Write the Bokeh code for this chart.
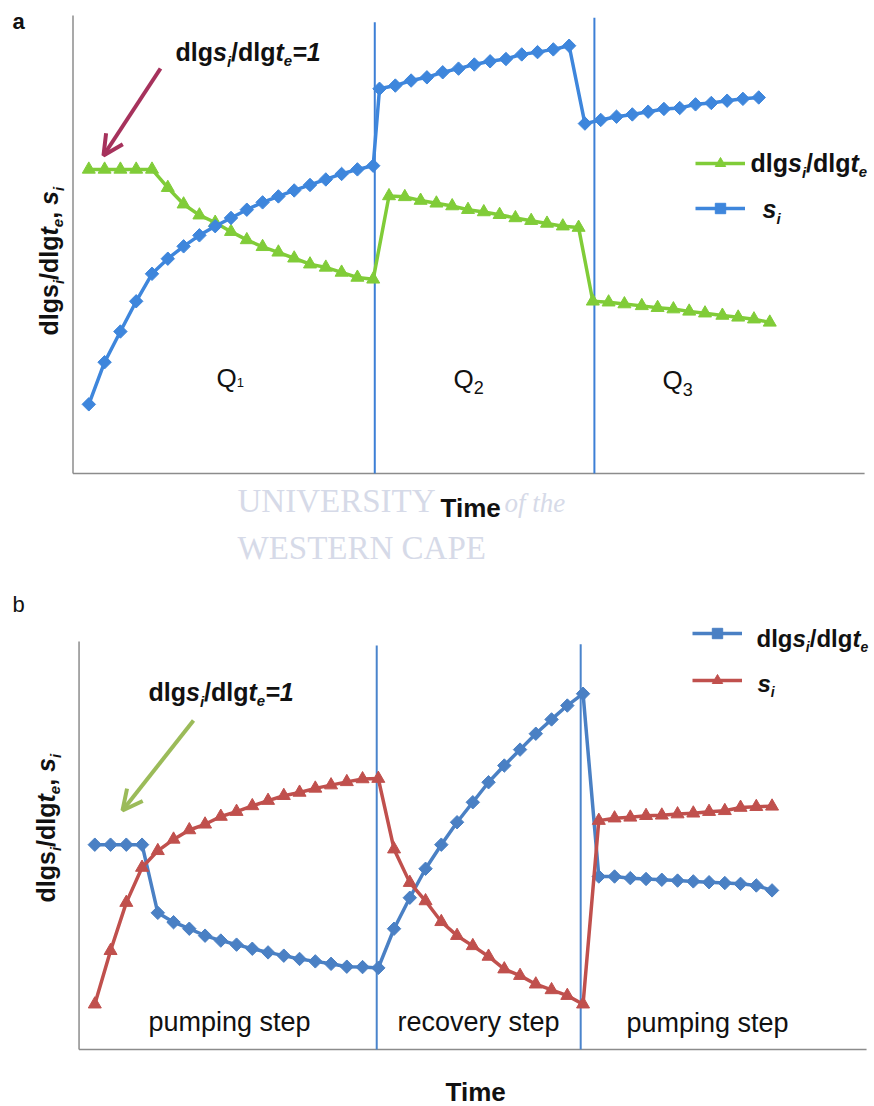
import math
from bokeh.plotting import figure
from bokeh.models import Label, Arrow, OpenHead, Legend, LegendItem, Range1d
from bokeh.layouts import column
from bokeh.embed import file_html
from bokeh.resources import INLINE

FONT = "Liberation Sans"
SERIF = "Liberation Serif"
INK = "#111111"

# ---------------- panel a: three pumping rates ----------------
a_s_time = [1, 2, 3, 4, 5, 6, 7, 8, 9, 10, 11, 12, 13, 14, 15, 16, 17, 18, 19,
            19.4, 20.4, 21.4, 22.4, 23.4, 24.4, 25.4, 26.4, 27.4, 28.4, 29.4, 30.4, 31.4,
            32.4, 33.4, 34.4, 35.4, 36.4, 37.4, 38.4, 39.4, 40.4, 41.4, 42.4, 43.4]
a_s = [15.1, 24.3, 31.0, 37.6, 43.6, 46.9, 49.6, 52.0, 54.0, 55.8, 57.6, 59.2, 60.5,
       61.8, 63.0, 64.2, 65.4, 66.4, 67.2,
       84.0, 84.7, 85.8, 86.5, 87.6, 88.4, 89.3, 90.0, 90.5, 91.5, 92.0, 92.6, 93.4,
       76.4, 77.2, 77.9, 78.4, 79.0, 79.6, 79.8, 80.6, 80.9, 81.4, 81.8, 82.1]
a_deriv_time = [1, 2, 3, 4, 5, 6, 7, 8, 9, 10, 11, 12, 13, 14, 15, 16, 17, 18, 19,
                20, 21, 22, 23, 24, 25, 26, 27, 28, 29, 30, 31, 32,
                32.9, 33.9, 34.9, 36.0, 37.0, 38.0, 39.0, 40.0, 41.1, 42.1, 43.1, 44.1]
a_deriv = [66.4, 66.4, 66.4, 66.4, 66.4, 62.4, 58.8, 56.4, 54.8, 52.8, 51.0, 49.5, 48.3,
           47.0, 45.7, 45.0, 43.9, 42.8, 42.4,
           60.6, 60.4, 59.6, 59.0, 58.4, 57.6, 57.1, 56.5, 55.8, 55.2, 54.6, 54.0, 53.7,
           37.6, 37.4, 37.0, 36.6, 36.2, 35.9, 35.4, 35.0, 34.5, 34.1, 33.7, 33.0]
a_switch_time = [19.1, 33.0]
a_switch_top = [98.5, 99.5]
a_time_end = 50.1
a_rate_labels = ["1", "2", "3"]

# ---------------- panel b: pumping / recovery / pumping ----------------
b_time = list(range(1, 45))
b_deriv = [50.2, 50.2, 50.2, 50.2, 33.5, 31.2, 29.6, 27.9, 26.7, 25.7, 24.7, 23.8, 23.0,
           22.2, 21.6, 21.0, 20.3, 20.2, 20.0,
           29.6, 37.2, 44.3, 50.2, 55.7, 60.6, 65.5, 69.6, 73.5, 77.4, 80.9, 84.3, 87.2,
           42.4, 42.4, 42.0, 41.8, 41.6, 41.4, 41.2, 41.0, 40.8, 40.6, 40.2, 39.0]
b_s = [11.1, 24.2, 36.0, 44.6, 48.7, 51.5, 53.8, 55.2, 57.1, 58.3, 59.7, 61.0, 62.2,
       63.0, 64.0, 64.8, 65.6, 66.3, 66.4,
       49.1, 40.9, 36.4, 31.3, 27.9, 25.4, 22.8, 19.7, 18.1, 16.0, 14.6, 13.2, 11.1,
       56.1, 56.7, 56.9, 57.3, 57.4, 57.7, 57.9, 58.3, 58.5, 59.3, 59.5, 59.6]
b_switch_time = [18.9, 31.85]
b_switch_top = [99.0, 99.3]
b_time_end = 50.0
b_step_labels = ["pumping step", "recovery step", "pumping step"]

# Advance widths (1/1000 em) of the sans face, used to chain styled runs of text
W_REG = {' ': 278, ',': 278, '/': 278, '=': 584, '1': 556, '2': 556, '3': 556, 'Q': 778,
         'T': 611, 'a': 556, 'b': 556, 'c': 500, 'd': 556, 'e': 556, 'g': 556, 'i': 222,
         'l': 222, 'm': 833, 'n': 556, 'o': 556, 'p': 556, 'r': 333, 's': 500, 't': 278,
         'u': 556, 'v': 500, 'y': 500}
W_BOLD = {' ': 278, ',': 278, '/': 278, '=': 584, '1': 556, 'T': 611, 'a': 556, 'b': 611,
          'd': 611, 'e': 556, 'g': 611, 'i': 278, 'l': 278, 'm': 889, 's': 556, 't': 333}

# labels land about this fraction of their size below the requested baseline
BASELINE_FIX = 0.29

DIAMOND = 9.5     # side of the 45-degree square marker
TRIANGLE = 13


class Canvas:
    """Page-pixel <-> data mapping for a figure whose plot area fills its canvas.

    The canvas is w x h and starts at page row `top`; (ox, oy) is the page pixel
    of the data origin and kx / ky are pixels per data unit."""

    def __init__(self, w, h, top, ox, oy, kx, ky):
        self.w, self.h, self.top = w, h, top
        self.ox, self.oy, self.kx, self.ky = ox, oy, kx, ky
        self.xr = (-ox / kx, (w - ox) / kx)
        self.yr = ((oy - top - h) / ky, (oy - top) / ky)

    def dx(self, cx):
        return (cx - self.ox) / self.kx

    def dy(self, cy):
        return (self.oy - cy) / self.ky

    def legend_floor(self, page_y):
        """distance of a page row above the canvas bottom"""
        return self.top + self.h - page_y


def make_figure(cv):
    p = figure(width=cv.w, height=cv.h, output_backend="svg", toolbar_location=None,
               x_range=Range1d(*cv.xr), y_range=Range1d(*cv.yr),
               x_axis_type=None, y_axis_type=None,
               min_border=0)
    p.outline_line_color = None
    p.grid.visible = False
    p.background_fill_color = "white"
    p.border_fill_color = "white"
    return p


def draw_axes(p, x_end, y_top):
    # plain axis lines without ticks, as in a spreadsheet chart
    p.segment(x0=[0, 0], y0=[0, 0], x1=[0, x_end], y1=[y_top, 0],
              line_color="#8C8C8C", line_width=1.5)


def style_of(bold, italic):
    if bold and italic:
        return "bold italic"
    if bold:
        return "bold"
    if italic:
        return "italic"
    return "normal"


def label(p, cv, cx, cy, text, size, bold=False, italic=False, color=INK, font=FONT,
          angle=0.0):
    if angle:
        cx -= BASELINE_FIX * size
    else:
        cy -= BASELINE_FIX * size
    p.add_layout(Label(x=cv.dx(cx), y=cv.dy(cy), text=text, text_font=font,
                       text_font_size=f"{size}px", text_font_style=style_of(bold, italic),
                       text_color=color, text_baseline="alphabetic", text_align="left",
                       angle=angle))


def rich(p, cv, cx, cy, runs, vertical=False, color=INK):
    """runs: (text, size, bold, italic, baseline shift downwards in px)"""
    pos = 0.0
    for text, size, bold, italic, shift in runs:
        if vertical:
            label(p, cv, cx + shift, cy - pos, text, size, bold, italic, color,
                  angle=math.pi / 2)
        else:
            label(p, cv, cx + pos, cy + shift, text, size, bold, italic, color)
        table = W_BOLD if bold else W_REG
        pos += sum(table[c] for c in text) * size / 1000.0


def deriv_runs(size, tail=True):
    sub = round(size * 0.6)
    runs = [("dlg", size, True, False, 0), ("s", size, True, True, 0),
            ("i", sub, True, True, 6), ("/dlg", size, True, False, 0),
            ("t", size, True, True, 0), ("e", sub, True, True, 6)]
    if tail:
        runs.append(("=1", size, True, True, 0))
    return runs


def ylabel_runs(size):
    sub = round(size * 0.6)
    return [("dlgs", size, True, False, 0), ("i", sub, True, True, 6),
            ("/dlg", size, True, False, 0), ("t", size, True, True, 0),
            ("e", sub, True, True, 6), (", ", size, True, False, 0),
            ("s", size, True, True, 0), ("i", sub, True, True, 6)]


def si_runs(size):
    return [("s", size, True, True, 0), ("i", round(size * 0.6), True, True, 6)]


def legend(p, items, x, y_bottom, spacing):
    p.add_layout(Legend(items=items, location=(x, y_bottom), orientation="vertical",
                        glyph_width=50, glyph_height=26, label_height=26, label_width=1,
                        spacing=spacing, padding=0, margin=0, label_standoff=0,
                        border_line_color=None, background_fill_alpha=0,
                        label_text_font_size="1px"))


# ======================= panel a =======================
ca = Canvas(874, 575, 0, 72.5, 473, 15.8, 4.58)
pa = make_figure(ca)

A_BLUE = "#3E86DC"
A_GREEN = "#80CC38"
A_STEP = "#3C7FD6"

# watermark of the source repository
WM = "#D6DAE8"
label(pa, ca, 237, 510, "UNIVERSITY", 33, color=WM, font=SERIF)
label(pa, ca, 504, 510, "of the", 27, italic=True, color=WM, font=SERIF)
label(pa, ca, 237, 557, "WESTERN CAPE", 33, color=WM, font=SERIF)

draw_axes(pa, a_time_end, 100)
pa.segment(x0=a_switch_time, y0=[0, 0], x1=a_switch_time, y1=a_switch_top,
           line_color=A_STEP, line_width=2)

la_g = pa.line(a_deriv_time, a_deriv, line_color=A_GREEN, line_width=3.5)
sa_g = pa.scatter(a_deriv_time, a_deriv, marker="triangle", size=TRIANGLE,
                  fill_color=A_GREEN, line_color=A_GREEN)
la_b = pa.line(a_s_time, a_s, line_color=A_BLUE, line_width=3.5)
sa_b = pa.scatter(a_s_time, a_s, marker="square", angle=math.pi / 4, size=DIAMOND,
                  fill_color=A_BLUE, line_color=A_BLUE)

legend(pa, [LegendItem(label=" ", renderers=[la_g, sa_g]),
            LegendItem(label=" ", renderers=[la_b, sa_b])], 695, ca.legend_floor(221), 19)
rich(pa, ca, 750, 170, deriv_runs(25, tail=False))
rich(pa, ca, 762, 216, si_runs(25))

label(pa, ca, 12, 27, "a", 22, bold=True)
rich(pa, ca, 175, 59, deriv_runs(25))
pa.add_layout(Arrow(x_start=ca.dx(160), y_start=ca.dy(68), x_end=ca.dx(103), y_end=ca.dy(155),
                    line_color="#A6325C", line_width=4,
                    end=OpenHead(size=20, line_color="#A6325C", line_width=4)))
rich(pa, ca, 56, 335, ylabel_runs(25), vertical=True)
label(pa, ca, 440, 515, "Time", 26, bold=True)

for (qx, qy, sub_size, sub_drop), num in zip([(216, 385, 13, 1), (453, 386, 18, 6),
                                              (662, 387, 18, 7)], a_rate_labels):
    rich(pa, ca, qx, qy, [("Q", 26, False, False, 0), (num, sub_size, False, False, sub_drop)])

# ======================= panel b =======================
cb = Canvas(874, 531, 575, 78.55, 1049, 15.75, 4.08)
pb = make_figure(cb)

B_BLUE = "#4A80C4"
B_RED = "#C0504D"
B_STEP = "#4A84CC"

draw_axes(pb, b_time_end, 100)
pb.segment(x0=b_switch_time, y0=[0, 0], x1=b_switch_time, y1=b_switch_top,
           line_color=B_STEP, line_width=2)
lb_b = pb.line(b_time, b_deriv, line_color=B_BLUE, line_width=3.5)
sb_b = pb.scatter(b_time, b_deriv, marker="square", angle=math.pi / 4, size=DIAMOND,
                  fill_color=B_BLUE, line_color=B_BLUE)
lb_r = pb.line(b_time, b_s, line_color=B_RED, line_width=3.5)
sb_r = pb.scatter(b_time, b_s, marker="triangle", size=TRIANGLE,
                  fill_color=B_RED, line_color=B_RED)

legend(pb, [LegendItem(label=" ", renderers=[lb_b, sb_b]),
            LegendItem(label=" ", renderers=[lb_r, sb_r])], 692, cb.legend_floor(693), 21)
rich(pb, cb, 756, 645, deriv_runs(24, tail=False))
rich(pb, cb, 757, 690, si_runs(24))

label(pb, cb, 12, 610, "b", 22)
rich(pb, cb, 148, 699, deriv_runs(25))
pb.add_layout(Arrow(x_start=cb.dx(193), y_start=cb.dy(720), x_end=cb.dx(122), y_end=cb.dy(810),
                    line_color="#9BBB59", line_width=4,
                    end=OpenHead(size=20, line_color="#9BBB59", line_width=4)))
rich(pb, cb, 53, 902, ylabel_runs(25), vertical=True)
label(pb, cb, 445, 1099, "Time", 26, bold=True)

for (sx, sy), txt in zip([(148, 1029), (397, 1029), (626, 1030)], b_step_labels):
    label(pb, cb, sx, sy, txt, 27)

layout = column(pa, pb)
open("out.html", "w").write(file_html(layout, INLINE))
